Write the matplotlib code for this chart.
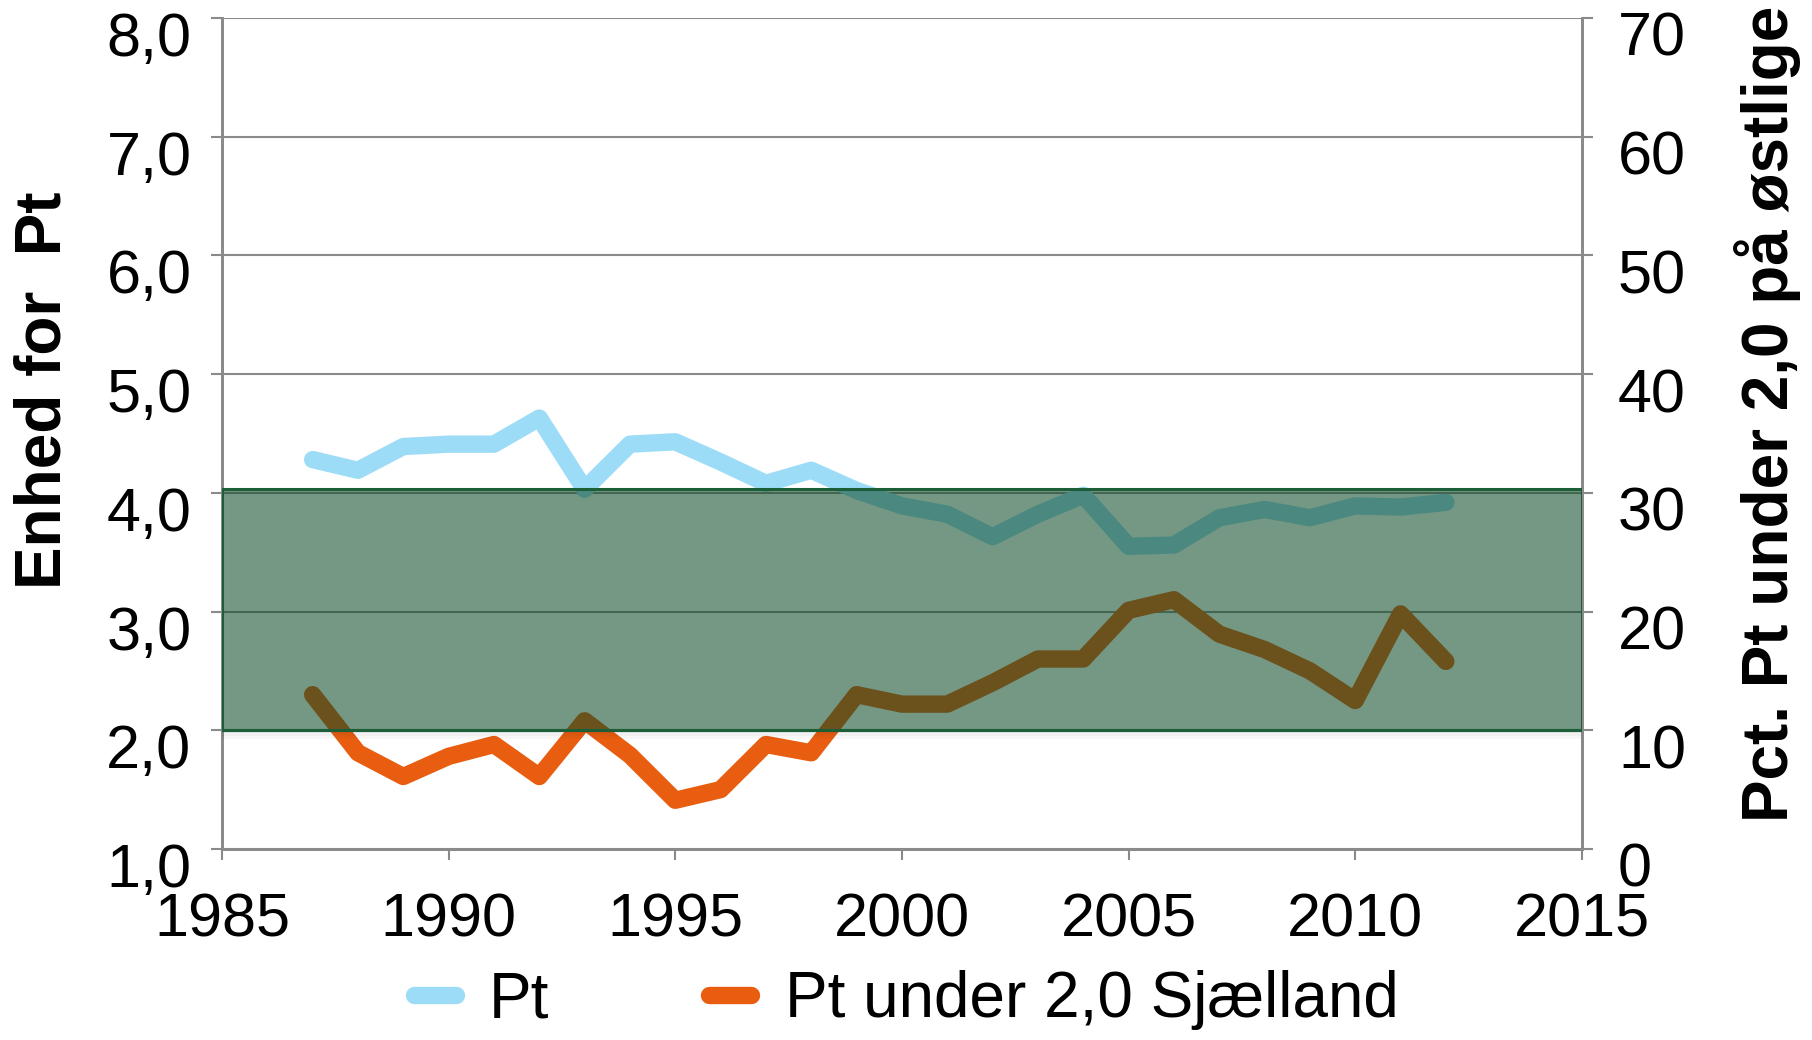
import matplotlib
matplotlib.use("Agg")
from matplotlib import pyplot as plt
from matplotlib.ticker import FuncFormatter
from matplotlib.transforms import ScaledTranslation

# data
years = list(range(1987, 2013))
pt = [4.28, 4.19, 4.39, 4.41, 4.41, 4.63, 4.03, 4.41, 4.43, 4.26,
      4.08, 4.19, 4.02, 3.89, 3.82, 3.63, 3.82, 3.98, 3.55, 3.56,
      3.79, 3.86, 3.79, 3.89, 3.88, 3.92]
pct_under = [13.0, 8.1, 6.1, 7.8, 8.8, 6.1, 10.8, 7.9, 4.1, 5.0,
             8.8, 8.1, 13.0, 12.2, 12.2, 14.0, 16.0, 16.0, 20.1, 21.0,
             18.1, 16.8, 15.0, 12.5, 19.8, 15.8]
band_low, band_high = 2.0, 4.03   # target band, left axis units
x_ticks = [1985, 1990, 1995, 2000, 2005, 2010, 2015]
left_ticks = [1, 2, 3, 4, 5, 6, 7, 8]
right_ticks = [0, 10, 20, 30, 40, 50, 60, 70]

plt.rcParams['font.family'] = ['Liberation Sans', 'DejaVu Sans']
grey = '#8a8a8a'
fs = 44

fig = plt.figure(figsize=(18.12, 10.4), dpi=100)
ax = fig.add_axes([0.1225, 0.1837, 0.7505, 0.7990])
ax2 = ax.twinx()

ax.plot(years, pt, color='#9ddcf7', lw=12.5, solid_capstyle='round',
        solid_joinstyle='round', label='Pt', zorder=2)
ax2.plot(years, pct_under, color='#e85d10', lw=12.5, solid_capstyle='round',
         solid_joinstyle='round', label='Pt under 2,0 Sjælland', zorder=2)

# green band on top of both lines (right axis units: (v-1)*10)
lo2, hi2 = (band_low - 1) * 10, (band_high - 1) * 10
for i, a in enumerate([0.10, 0.06, 0.03]):
    ax2.axhspan(lo2 - 0.25 * (i + 1), lo2 - 0.25 * i, color='black', alpha=a,
                lw=0, zorder=3)
ax2.axhspan(lo2, hi2, facecolor='#0d4a27', alpha=0.57, edgecolor='none', zorder=4)
ax2.axhspan(lo2, hi2, facecolor='none', edgecolor='#1b5e38', lw=2.2, zorder=5)

ax.set_xlim(1985, 2015)
ax.set_ylim(1, 8)
ax2.set_ylim(0, 70)
ax.set_xticks(x_ticks)
ax.set_yticks(left_ticks)
ax2.set_yticks(right_ticks)
ax.yaxis.set_major_formatter(FuncFormatter(lambda v, p: f"{v:.1f}".replace('.', ',')))

ax.grid(axis='y', color=grey, lw=1.5)
ax.set_axisbelow(True)
for a in (ax, ax2):
    a.spines['top'].set_visible(False)
    for s in ('left', 'right', 'bottom'):
        a.spines[s].set_color(grey)
        a.spines[s].set_linewidth(2)
ax.tick_params(axis='y', length=8, width=1.5, color=grey, labelsize=fs, pad=14)
ax.tick_params(axis='x', length=8, width=1.5, color=grey, labelsize=fs, pad=23)
ax2.tick_params(axis='y', length=8, width=1.5, color=grey, labelsize=fs, pad=18)

# y tick labels sit a little below their ticks in the original
shift = ScaledTranslation(0, -0.16, fig.dpi_scale_trans)
for t in ax.yaxis.get_major_ticks():
    t.label1.set_transform(t.label1.get_transform() + shift)
for t in ax2.yaxis.get_major_ticks():
    t.label2.set_transform(t.label2.get_transform() + shift)

fig.text(0.024, 0.625, 'Enhed for  Pt', rotation=90, ha='center', va='center',
         fontsize=46, fontweight='bold')
fig.text(0.9757, 0.602, 'Pct. Pt under 2,0 på østlige', rotation=90, ha='center',
         va='center', fontsize=46, fontweight='bold')

h1, l1 = ax.get_legend_handles_labels()
h2, l2 = ax2.get_legend_handles_labels()
fig.legend(h1 + h2, l1 + l2, loc='center', bbox_to_anchor=(0.5, 0.038), ncol=2,
           frameon=False, fontsize=46, handlelength=0.66, handletextpad=0.52,
           columnspacing=2.5)

fig.savefig('out.png', dpi=100)
